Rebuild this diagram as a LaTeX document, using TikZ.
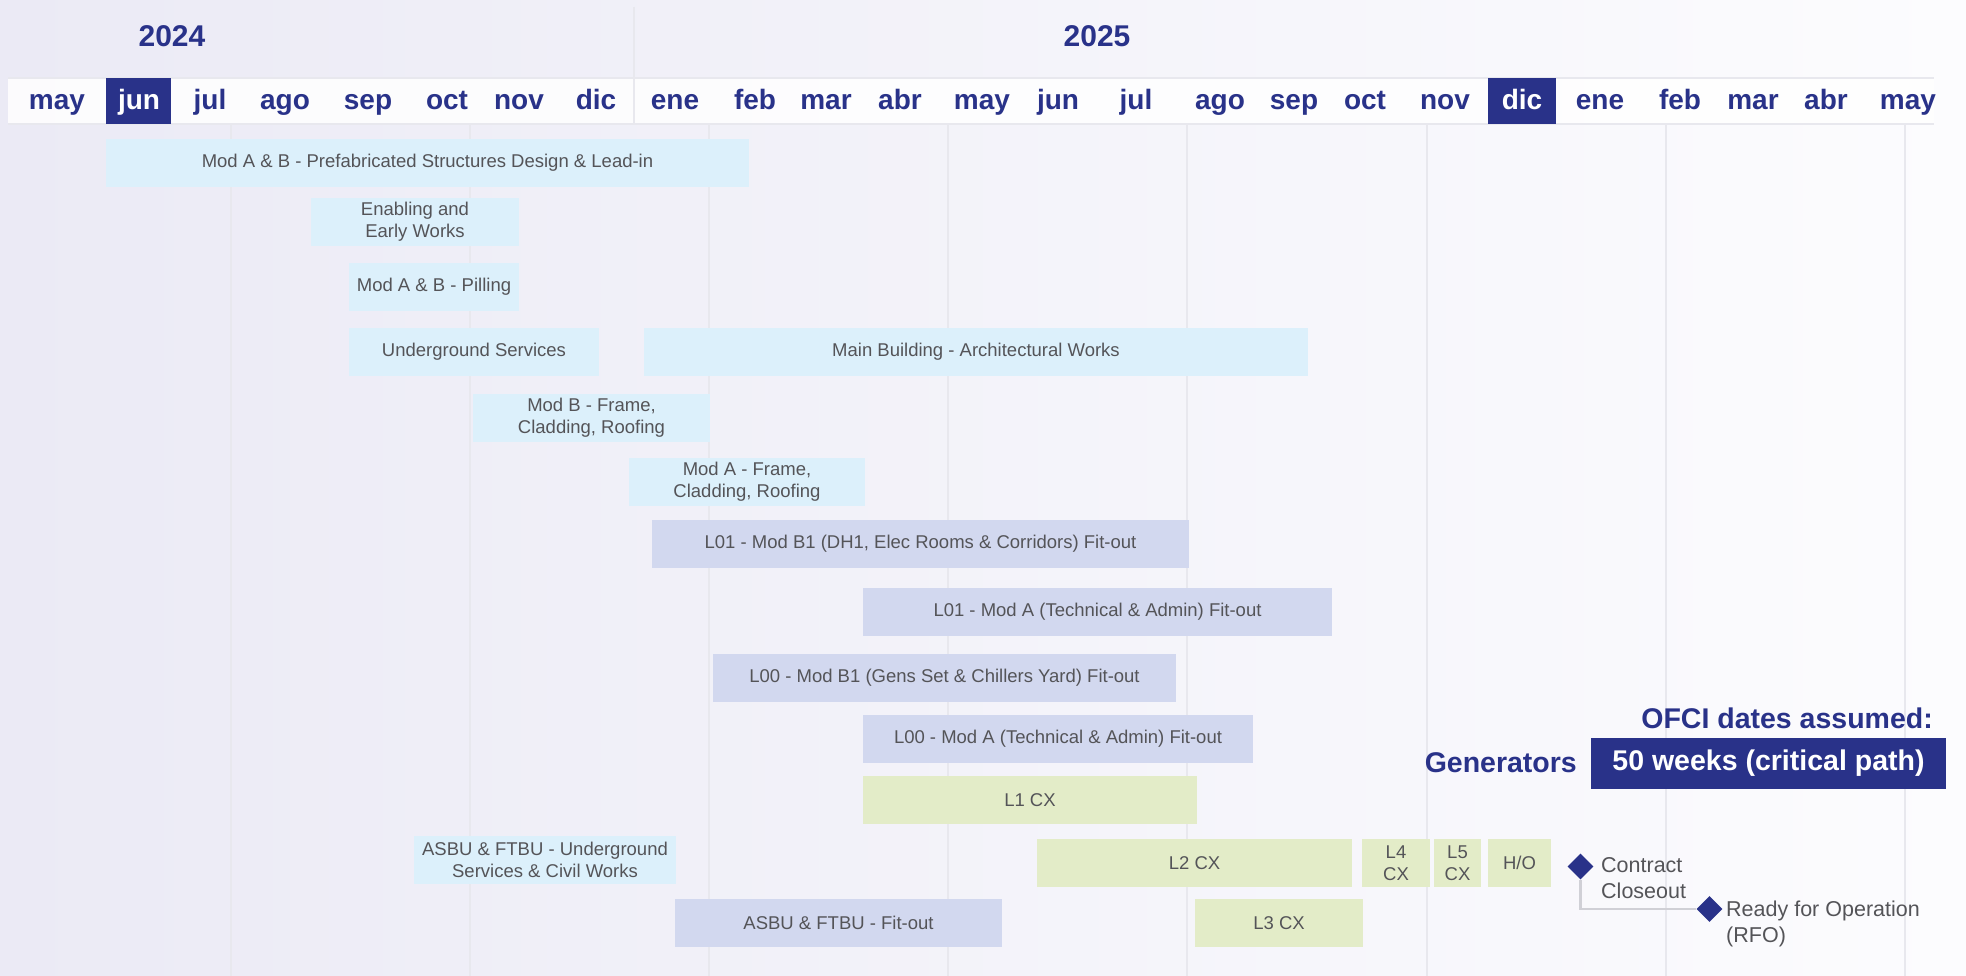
\documentclass[tikz,border=0pt]{standalone}
\usepackage{fontspec}
\setmainfont{Liberation Sans}
\usetikzlibrary{shapes.geometric}
\definecolor{navy}{RGB}{41,50,137}
\definecolor{barblue}{RGB}{220,240,251}
\definecolor{barlav}{RGB}{210,216,239}
\definecolor{bargreen}{RGB}{227,236,200}
\definecolor{txtgray}{RGB}{84,84,88}
\definecolor{gridgray}{RGB}{232,232,238}
\definecolor{linkgray}{RGB}{208,208,214}
\definecolor{bgleft}{RGB}{235,234,245}
\definecolor{bgright}{RGB}{252,252,254}
\tikzset{
  taskbar/.style={inner sep=0pt, align=center, text=txtgray, font=\fontsize{18.5}{22}\selectfont},
  bluebar/.style={taskbar, fill=barblue},
  lavbar/.style={taskbar, fill=barlav},
  greenbar/.style={taskbar, fill=bargreen},
  monthlabel/.style={text=navy, font=\bfseries\fontsize{28}{30}\selectfont, inner sep=0pt, anchor=base},
  monthcur/.style={monthlabel, text=white},
  monthbox/.style={fill=navy, inner sep=0pt},
  yearlabel/.style={text=navy, font=\bfseries\fontsize{30}{32}\selectfont, inner sep=0pt, anchor=base},
  gridline/.style={draw=gridgray, line width=2pt},
  hdrline/.style={draw=gridgray, line width=2.5pt},
  milestone/.style={diamond, fill=navy, inner sep=0pt, minimum width=26pt, minimum height=26pt},
  mslabel/.style={text=txtgray, align=left, inner sep=0pt, font=\fontsize{21.5}{26}\selectfont},
  connector/.style={draw=linkgray, line width=2.2pt},
  notetext/.style={text=navy, font=\bfseries\fontsize{28.5}{30}\selectfont, inner sep=0pt},
  notebox/.style={fill=navy, text=white, font=\bfseries\fontsize{28.5}{30}\selectfont, inner sep=0pt}
}
\newcommand\ganttbar[7]{%
  \node[#2, minimum width={(#5-#3)*1pt}, minimum height={(#6-#4)*1pt}] (#1) at ({(#3+#5)/2},{(#4+#6)/2}) {#7};}
\begin{document}
\begin{tikzpicture}[x=1pt,y=-1pt]
\useasboundingbox (0,0) rectangle (1966,976);
\shade[left color=bgleft, right color=bgright] (0,0) rectangle (1966,976);
% grid
\foreach \gx in {231,470,709,948,1187,1427,1666,1905}
  \draw[gridline] (\gx,124) -- (\gx,976);
% header band
\fill[white, opacity=0.85] (8,78) rectangle (1934,124);
\draw[hdrline] (8,78) -- (1934,78);
\draw[hdrline] (8,124) -- (1934,124);
\draw[gridline] (634,7) -- (634,124);
% years
\node[yearlabel] (y2024) at (172,47) {2024};
\node[yearlabel] (y2025) at (1097,47) {2025};
% highlighted months
\node[monthbox, minimum width=65pt, minimum height=46pt] (junbox) at (138.5,101) {};
\node[monthbox, minimum width=68pt, minimum height=46pt] (dicbox) at (1522,101) {};
% months
\node[monthlabel] (m1) at (57,110) {may};
\node[monthcur] (m2) at (139,110) {jun};
\node[monthlabel] (m3) at (210,110) {jul};
\node[monthlabel] (m4) at (285,110) {ago};
\node[monthlabel] (m5) at (368,110) {sep};
\node[monthlabel] (m6) at (447,110) {oct};
\node[monthlabel] (m7) at (519,110) {nov};
\node[monthlabel] (m8) at (596,110) {dic};
\node[monthlabel] (m9) at (675,110) {ene};
\node[monthlabel] (m10) at (755,110) {feb};
\node[monthlabel] (m11) at (826,110) {mar};
\node[monthlabel] (m12) at (900,110) {abr};
\node[monthlabel] (m13) at (982,110) {may};
\node[monthlabel] (m14) at (1058,110) {jun};
\node[monthlabel] (m15) at (1136,110) {jul};
\node[monthlabel] (m16) at (1220,110) {ago};
\node[monthlabel] (m17) at (1294,110) {sep};
\node[monthlabel] (m18) at (1365,110) {oct};
\node[monthlabel] (m19) at (1445,110) {nov};
\node[monthcur] (m20) at (1522,110) {dic};
\node[monthlabel] (m21) at (1600,110) {ene};
\node[monthlabel] (m22) at (1680,110) {feb};
\node[monthlabel] (m23) at (1753,110) {mar};
\node[monthlabel] (m24) at (1826,110) {abr};
\node[monthlabel] (m25) at (1908,110) {may};
% bars
\ganttbar{t1}{bluebar}{106}{139}{749}{187}{Mod A \& B - Prefabricated Structures Design \& Lead-in}
\ganttbar{t2}{bluebar}{311}{198}{519}{246}{Enabling and\\Early Works}
\ganttbar{t3}{bluebar}{349}{263}{519}{311}{Mod A \& B - Pilling}
\ganttbar{t4}{bluebar}{349}{328}{599}{376}{Underground Services}
\ganttbar{t5}{bluebar}{644}{328}{1308}{376}{Main Building - Architectural Works}
\ganttbar{t6}{bluebar}{473}{394}{710}{442}{Mod B - Frame,\\Cladding, Roofing}
\ganttbar{t7}{bluebar}{629}{458}{865}{506}{Mod A - Frame,\\Cladding, Roofing}
\ganttbar{t8}{lavbar}{652}{520}{1189}{568}{L01 - Mod B1 (DH1, Elec Rooms \& Corridors) Fit-out}
\ganttbar{t9}{lavbar}{863}{588}{1332}{636}{L01 - Mod A (Technical \& Admin) Fit-out}
\ganttbar{t10}{lavbar}{713}{654}{1176}{702}{L00 - Mod B1 (Gens Set \& Chillers Yard) Fit-out}
\ganttbar{t11}{lavbar}{863}{715}{1253}{763}{L00 - Mod A (Technical \& Admin) Fit-out}
\ganttbar{t12}{greenbar}{863}{776}{1197}{824}{L1 CX}
\ganttbar{t13}{bluebar}{414}{836}{676}{884}{ASBU \& FTBU - Underground\\Services \& Civil Works}
\ganttbar{t14}{greenbar}{1037}{839}{1352}{887}{L2 CX}
\ganttbar{t15}{greenbar}{1362}{839}{1430}{887}{L4\\CX}
\ganttbar{t16}{greenbar}{1434}{839}{1481}{887}{L5\\CX}
\ganttbar{t17}{greenbar}{1488}{839}{1551}{887}{H/O}
\ganttbar{t18}{lavbar}{675}{899}{1002}{947}{ASBU \& FTBU - Fit-out}
\ganttbar{t19}{greenbar}{1195}{899}{1363}{947}{L3 CX}
% OFCI note
\node[notetext, anchor=base east] (ofci) at (1933,728) {OFCI dates assumed:};
\node[notetext, anchor=base east] (gen) at (1577,772) {Generators};
\node[notebox, minimum width=355pt, minimum height=51pt] (crit) at (1768.5,763.5) {50 weeks (critical path)};
% milestones
\node[milestone] (cc) at (1580.5,866.5) {};
\node[milestone] (rfo) at (1709.5,909) {};
\draw[connector] (cc.south) |- (rfo.west);
\node[mslabel, anchor=west] (cctext) at (1601,878) {Contract\\Closeout};
\node[mslabel, anchor=west] (rfotext) at (1726,923.5) {Ready for Operation\\(RFO)};
\end{tikzpicture}
\end{document}
